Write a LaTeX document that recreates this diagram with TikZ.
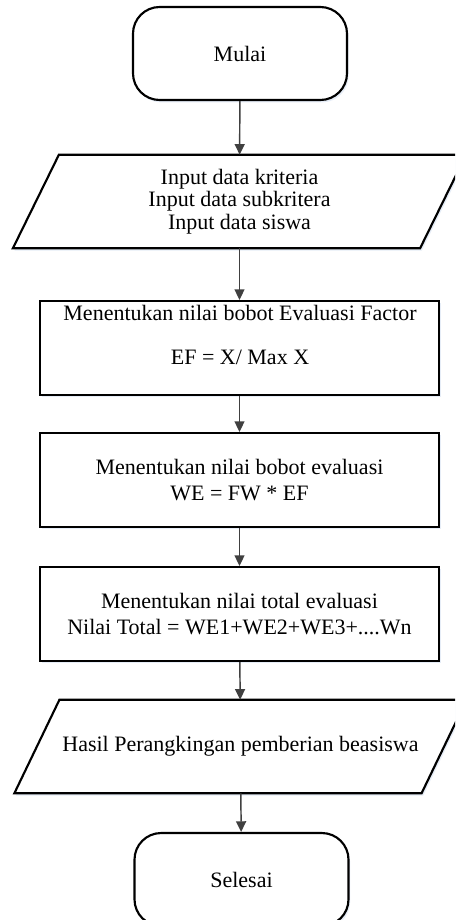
\documentclass[tikz,border=0pt]{standalone}
\usepackage{fontspec}
\setmainfont{Liberation Serif}
\usetikzlibrary{arrows.meta,shadows}
\definecolor{arrowgray}{HTML}{404040}
\definecolor{shadowblue}{HTML}{9DB9E0}
\tikzset{
  shade/.style={drop shadow={shadow xshift=1.2pt,shadow yshift=-1.8pt,fill=shadowblue,opacity=0.25}},
  outline/.style={draw=black,line width=1.6pt,fill=white,shade},
  term/.style={outline,rounded corners=20pt,minimum width=160.5pt,minimum height=69.75pt,inner sep=0pt},
  procbox/.style={outline,minimum width=299.25pt,minimum height=70.5pt,inner sep=0pt},
  txt/.style={align=center,inner sep=0pt,font=\fontsize{16.5}{17}\selectfont},
  iohold/.style={minimum width=305pt,minimum height=69.75pt,inner sep=0pt},
  flow/.style={draw=arrowgray,line width=1.1pt,-{Triangle[width=7.5pt,length=8pt]}},
}
\begin{document}
\begin{tikzpicture}[x=0.75pt,y=-0.75pt]
\fill[white] (0,0) rectangle (455,920);
\useasboundingbox (0,0) rectangle (455,920);
\clip (0,0) rectangle (455,920);

% start
\node[term,txt] (m) at (240,53.5) {Mulai};

% input parallelogram
\node[iohold] (p1) at (239.5,201.5) {};
\draw[outline,line join=miter] ([xshift=17.25pt]p1.north west) -- ([xshift=17.25pt]p1.north east)
  -- ([xshift=-17.25pt]p1.south east) -- ([xshift=-17.25pt]p1.south west) -- cycle;
\node[txt] (p1t) at (p1.center) {Input data kriteria\\Input data subkritera\\Input data siswa};

% process 1
\node[procbox] (b1) at (239.5,348) {};
\node[txt] (b1t) at (240,335) {Menentukan nilai bobot Evaluasi Factor\\[16pt]EF = X/ Max X};

% process 2
\node[procbox,txt] (b2) at (239.5,480) {Menentukan nilai bobot evaluasi\\[2pt]WE = FW * EF};

% process 3
\node[procbox,txt] (b3) at (239.5,614) {Menentukan nilai total evaluasi\\[2pt]Nilai Total = WE1+WE2+WE3+....Wn};

% output parallelogram
\node[iohold] (p2) at (240.5,746.5) {};
\draw[outline,line join=miter] ([xshift=16.9pt]p2.north west) -- ([xshift=16.9pt]p2.north east)
  -- ([xshift=-16.9pt]p2.south east) -- ([xshift=-16.9pt]p2.south west) -- cycle;
\node[txt] (p2t) at (p2.center) {Hasil Perangkingan pemberian beasiswa};

% end
\node[term,txt] (s) at (241.5,879.5) {Selesai};

% connectors
\draw[flow] (m) -- (p1);
\draw[flow] (p1) -- (b1);
\draw[flow] (b1) -- (b2);
\draw[flow] (b2) -- (b3);
\draw[flow] (b3) -- (p2);
\draw[flow] (p2) -- (s);
\end{tikzpicture}
\end{document}
